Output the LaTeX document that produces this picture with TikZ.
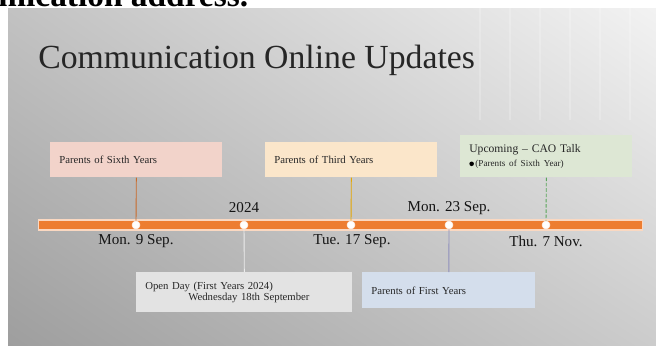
\documentclass[tikz,border=0pt]{standalone}
\usepackage{fontspec}
\setmainfont{Liberation Serif}
\usetikzlibrary{shadings}
\definecolor{barC}{HTML}{ED7D31}
\definecolor{sixC}{HTML}{F2D3CA}
\definecolor{thirdC}{HTML}{FBE6CA}
\definecolor{caoC}{HTML}{DDE7D4}
\definecolor{openC}{HTML}{E3E3E3}
\definecolor{firstC}{HTML}{D4DEEC}
\definecolor{txtC}{HTML}{262626}
\tikzset{
  evbox/.style={inner xsep=0.18cm, inner ysep=0pt, align=left, anchor=north west,
    font=\fontsize{6.1}{8}\selectfont, text=txtC},
  dot/.style={circle, fill=white, draw=white!85!barC, line width=0.3pt, minimum size=0.16cm, inner sep=0pt},
  datelab/.style={font=\fontsize{8.6}{10}\selectfont, text=black!92},
  conn/.style={line width=0.5pt}
}
\begin{document}
\begin{tikzpicture}[x=0.02cm,y=-0.02cm]
\useasboundingbox (0,0) rectangle (656,345);
\clip (0,0) rectangle (656,345);
\fill[white] (0,0) rectangle (656,345);
% background photo approximation
\shade[upper left=black!24, upper right=black!5, lower left=black!38, lower right=black!20] (8,8) rectangle (656,345);
\begin{scope}[white, opacity=0.2, line width=1pt]
  \foreach \x in {480,510,540,570,600,630} {\draw (\x,8) -- (\x,120);}
\end{scope}
% cut-off top text
\node[anchor=base west, inner sep=0pt, font=\fontsize{19}{22}\selectfont\bfseries] (cut) at (-2,6.5) {mication address.};
% title
\node[anchor=base west, inner sep=0pt, font=\fontsize{19.2}{23}\selectfont, text=black!85] (title) at (38,68) {Communication Online Updates};
% timeline bar
\node[fill=barC, draw=white!70!barC, line width=0.6pt, minimum width=12.1cm, minimum height=0.2cm, inner sep=0pt] (bar) at (340.5,225) {};
\node[dot] (d1) at (136,225) {};
\node[dot] (d2) at (244,225) {};
\node[dot] (d3) at (351,225) {};
\node[dot] (d4) at (449,225) {};
\node[dot] (d5) at (546,225) {};
% date labels
\node[datelab] (l1) at (136,241) {Mon. 9 Sep.};
\node[datelab] (l2) at (244,208) {2024};
\node[datelab] (l3) at (352,241) {Tue. 17 Sep.};
\node[datelab] (l4) at (449,208) {Mon. 23 Sep.};
\node[datelab] (l5) at (546,241) {Thu. 7 Nov.};
% event boxes
\node[evbox, fill=sixC, minimum width=3.44cm, minimum height=0.7cm, text width=3.08cm] (six) at (50,142) {Parents of Sixth Years};
\node[evbox, fill=thirdC, minimum width=3.44cm, minimum height=0.7cm, text width=3.08cm] (third) at (265,142) {Parents of Third Years};
\node[evbox, fill=caoC, minimum width=3.44cm, minimum height=0.84cm, text width=3.08cm, font=\fontsize{6.6}{14}\selectfont] (cao) at (460,135)
  {Upcoming -- CAO Talk\\[-6pt]{\fontsize{5.2}{6}\selectfont\raisebox{0.2pt}{\tikz\fill[black] (0,0) circle (1.3pt);}\,(Parents of Sixth Year)}};
\node[evbox, fill=openC, minimum width=4.32cm, minimum height=0.8cm, text width=3.96cm, font=\fontsize{6.1}{6.6}\selectfont] (open) at (136,272)
  {Open Day (First Years 2024)\\\hspace*{0.86cm}Wednesday 18th September};
\node[evbox, fill=firstC, minimum width=3.46cm, minimum height=0.72cm, text width=3.1cm] (first) at (362,272) {Parents of First Years};
% connectors
\draw[conn, draw=barC!85!black] (six.south) -- (d1);
\draw[conn, draw=orange!55!yellow!90!black] (third.south) -- (d3);
\draw[conn, draw=green!30!gray, dashed, dash pattern=on 2pt off 1pt] (cao.south) -- (d5);
\draw[conn, draw=white!85!gray] (d2) -- (open.north);
\draw[conn, draw=blue!25!gray!70] (d4) -- (first.north);
\end{tikzpicture}
\end{document}
